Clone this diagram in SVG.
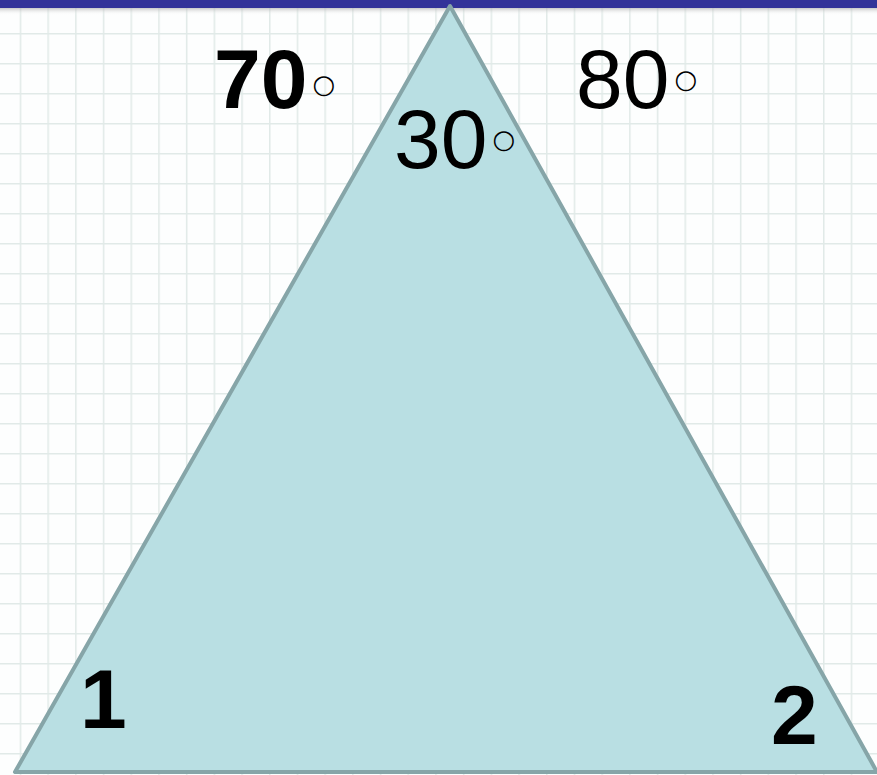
<svg xmlns="http://www.w3.org/2000/svg" width="877" height="775" viewBox="0 0 877 775">
<defs>
<pattern id="grid" x="-8" y="3" width="27.7" height="30" patternUnits="userSpaceOnUse">
<rect width="27.7" height="30" fill="#fdfefe"/>
<line x1="0" y1="0.5" x2="27.7" y2="0.5" stroke="#e1eae8" stroke-width="2"/>
<line x1="0.5" y1="0" x2="0.5" y2="30" stroke="#e1eae8" stroke-width="2"/>
</pattern>
<linearGradient id="shadow" x1="0" y1="0" x2="0" y2="1">
<stop offset="0" stop-color="#9a9a9a" stop-opacity="0.7"/>
<stop offset="1" stop-color="#ffffff" stop-opacity="0"/>
</linearGradient>
</defs>
<style>
.lbl{font-family:"Liberation Sans",Arial,sans-serif;font-size:84px;fill:#000}
.b{font-weight:bold}
.deg{font-family:"DejaVu Sans",sans-serif;font-size:26px;font-weight:normal;fill:#000}
</style>
<rect width="877" height="775" fill="url(#grid)"/>
<rect x="0" y="7" width="877" height="8" fill="url(#shadow)"/>
<rect x="0" y="0" width="877" height="8" fill="#333399"/>
<g id="triangle">
<polygon points="450,6 15,772 877,772" fill="#b9dfe3" stroke="#86a5a8" stroke-width="4" stroke-linejoin="round"/>
</g>
<g id="angle70">
<text class="lbl b" x="214" y="108">70<tspan class="deg" dx="5" dy="-15">○</tspan></text>
</g>
<g id="angle80">
<text class="lbl" x="576" y="108">80<tspan class="deg" dx="5" dy="-20">○</tspan></text>
</g>
<g id="angle30">
<text class="lbl" x="394" y="168">30<tspan class="deg" dx="5" dy="-20">○</tspan></text>
</g>
<g id="label1">
<text class="lbl b" x="80" y="728">1</text>
</g>
<g id="label2">
<text class="lbl b" x="771" y="744">2</text>
</g>
</svg>
